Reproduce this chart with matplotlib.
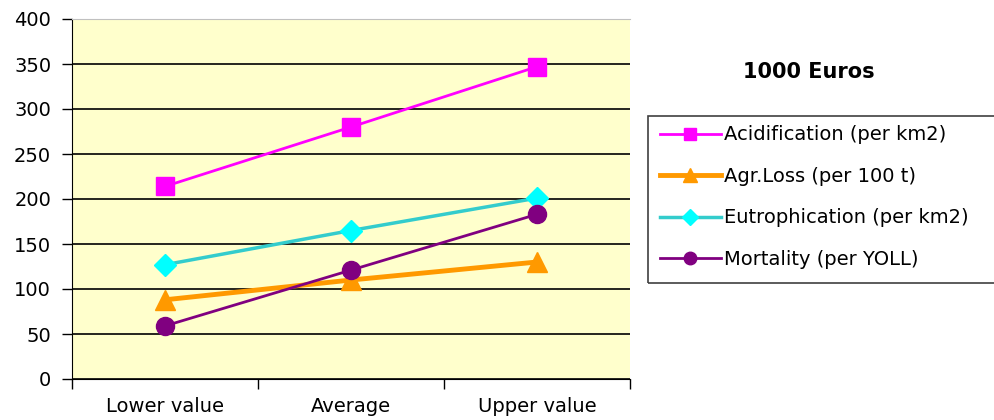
import matplotlib.pyplot as plt
from matplotlib.lines import Line2D
from matplotlib.patches import Rectangle

plt.rcParams['font.family'] = ['DejaVu Sans']

categories = ["Lower value", "Average", "Upper value"]
acidification = [214, 280, 347]
agr_loss = [88, 110, 130]
eutrophication = [127, 165, 201]
mortality = [59, 121, 183]

fig = plt.figure(figsize=(9.94, 4.2), dpi=100)
ax = fig.add_axes([72 / 994, 41 / 420, 558 / 994, 360 / 420])
ax.set_facecolor("#FFFFCC")

x = [i + 0.5 for i in range(len(categories))]

ax.plot(x, acidification, color="#FF00FF", lw=2, marker="s", ms=13, mec="#FF00FF", zorder=5)
ax.plot(x, agr_loss, color="#FF9900", lw=3.5, marker="^", ms=14, mec="#FF9900", zorder=5)
ax.plot(x, eutrophication, color="#33CCCC", lw=2.5, marker="D", ms=11, mfc="#00FFFF", mec="#00FFFF", zorder=5)
ax.plot(x, mortality, color="#800080", lw=2, marker="o", ms=13, mec="#800080", zorder=5)

ax.set_xlim(0, 3)
ax.set_ylim(0, 400)
ax.set_yticks(range(0, 401, 50))
ax.yaxis.grid(True, color="black", lw=1.2)
ax.set_axisbelow(True)

ax.set_xticks([0, 1, 2, 3])
ax.set_xticklabels([])
ax.set_xticks(x, minor=True)
ax.set_xticklabels(categories, minor=True, fontsize=14)
ax.tick_params(axis="x", which="minor", length=0, pad=13)
ax.tick_params(axis="x", which="major", length=7, width=1, direction="out")
ax.tick_params(axis="y", length=7, width=1, direction="out", labelsize=14, pad=8)

ax.spines["top"].set_color("#C0C0C0")
ax.spines["right"].set_visible(False)
ax.spines["left"].set_color("black")
ax.spines["bottom"].set_color("black")

fig.text(809 / 994, 1 - 72 / 420, "1000 Euros", ha="center", va="center",
         fontsize=15, fontweight="bold")

# legend box runs off the right edge in the original
fig.add_artist(Rectangle((648 / 994, 1 - 283 / 420), 360 / 994, 167 / 420,
                         transform=fig.transFigure, fill=False,
                         ec="#404040", lw=1.2))

handles = [
    Line2D([], [], color="#FF00FF", lw=2, marker="s", ms=9, mec="#FF00FF"),
    Line2D([], [], color="#FF9900", lw=3.5, marker="^", ms=10, mec="#FF9900"),
    Line2D([], [], color="#33CCCC", lw=2.5, marker="D", ms=8, mfc="#00FFFF", mec="#00FFFF"),
    Line2D([], [], color="#800080", lw=2, marker="o", ms=9, mec="#800080"),
]
labels = ["Acidification (per km2)", "Agr.Loss (per 100 t)",
          "Eutrophication (per km2)", "Mortality (per YOLL)"]
leg = fig.legend(handles, labels, loc="upper left",
                 bbox_to_anchor=(651 / 994, 1 - 116 / 420),
                 fontsize=14, frameon=False,
                 handlelength=3.1, handletextpad=0.15, labelspacing=1.16,
                 borderpad=0.48, borderaxespad=0)

fig.savefig("out.png", dpi=100)
